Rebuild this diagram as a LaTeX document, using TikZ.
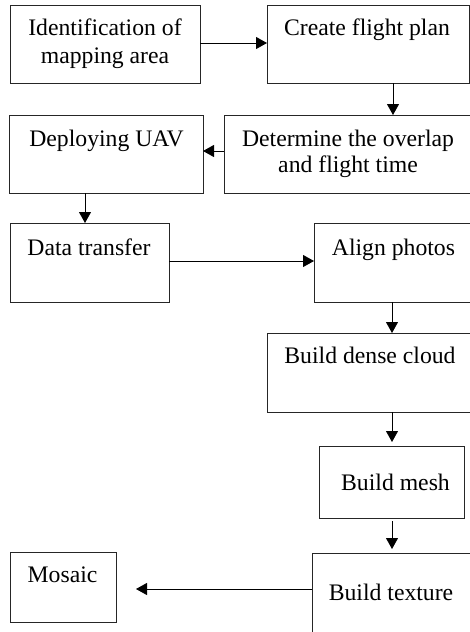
\documentclass[tikz,border=0pt]{standalone}
\usepackage{fontspec}
\setmainfont{Liberation Serif}
\usetikzlibrary{arrows.meta}
\tikzset{
  box/.style={draw=black!85, line width=0.9pt, inner sep=0pt, outer sep=0pt},
  lbl/.style={anchor=base, inner sep=0pt, font=\fontsize{23.7}{28}\selectfont},
  arr/.style={draw=black, line width=0.9pt, -{Triangle[length=11pt,width=12pt]}}
}
\begin{document}
\begin{tikzpicture}[x=1pt,y=-1pt]
\useasboundingbox (0,0) rectangle (470,632);
\clip (0,0) rectangle (470,632);
% boxes
\node[box, minimum width=190pt, minimum height=78pt] (b1) at (105,44) {};
\node[box, minimum width=202pt, minimum height=78pt] (b2) at (368,44) {};
\node[box, minimum width=256pt, minimum height=78pt] (b3) at (352,154) {};
\node[box, minimum width=194pt, minimum height=78pt] (b4) at (106,154) {};
\node[box, minimum width=159pt, minimum height=79pt] (b5) at (89.5,262.5) {};
\node[box, minimum width=166pt, minimum height=79pt] (b6) at (397,262.5) {};
\node[box, minimum width=213pt, minimum height=79pt] (b7) at (373.5,372.5) {};
\node[box, minimum width=145pt, minimum height=72pt] (b8) at (391.5,482) {};
\node[box, minimum width=168pt, minimum height=92pt] (b9) at (396,599) {};
\node[box, minimum width=106pt, minimum height=70pt] (b10) at (63,587) {};
% labels
\node[lbl] (t1a) at (105,35) {Identification of};
\node[lbl] (t1b) at (105,63) {mapping area};
\node[lbl] (t2) at (367,35) {Create flight plan};
\node[lbl] (t3a) at (348,146) {Determine the overlap};
\node[lbl] (t3b) at (348,172) {and flight time};
\node[lbl] (t4) at (106.5,146) {Deploying UAV};
\node[lbl] (t5) at (89,255) {Data transfer};
\node[lbl] (t6) at (393.5,255) {Align photos};
\node[lbl] (t7) at (370,363) {Build dense cloud};
\node[lbl] (t8) at (395.5,490) {Build mesh};
\node[lbl] (t9) at (391,600) {Build texture};
\node[lbl] (t10) at (62.5,582) {Mosaic};
% connectors
\draw[arr] ([yshift=1pt]b1.east) -- ([yshift=1pt]b2.west);
\draw[arr] ([xshift=25pt]b2.south) -- ([xshift=25pt]b2.south |- b3.north);
\draw[arr] ([yshift=3pt]b3.west) -- ([yshift=3pt]b4.east);
\draw[arr] ([xshift=-21pt]b4.south) -- ([xshift=-21pt]b4.south |- b5.north);
\draw[arr] ([yshift=1.5pt]b5.east) -- ([yshift=1.5pt]b6.west);
\draw[arr] ([xshift=-5pt]b6.south) -- ([xshift=-5pt]b6.south |- b7.north);
\draw[arr, shorten >=4pt] ([xshift=18.5pt]b7.south) -- ([xshift=18.5pt]b7.south |- b8.north);
\draw[arr, shorten <=3pt, shorten >=4pt] ([xshift=0.5pt]b8.south) -- ([xshift=0.5pt]b8.south |- b9.north);
\draw[arr, shorten >=20pt] ([yshift=10pt]b9.west) -- ([yshift=10pt]b9.west -| b10.east);
\end{tikzpicture}
\end{document}
